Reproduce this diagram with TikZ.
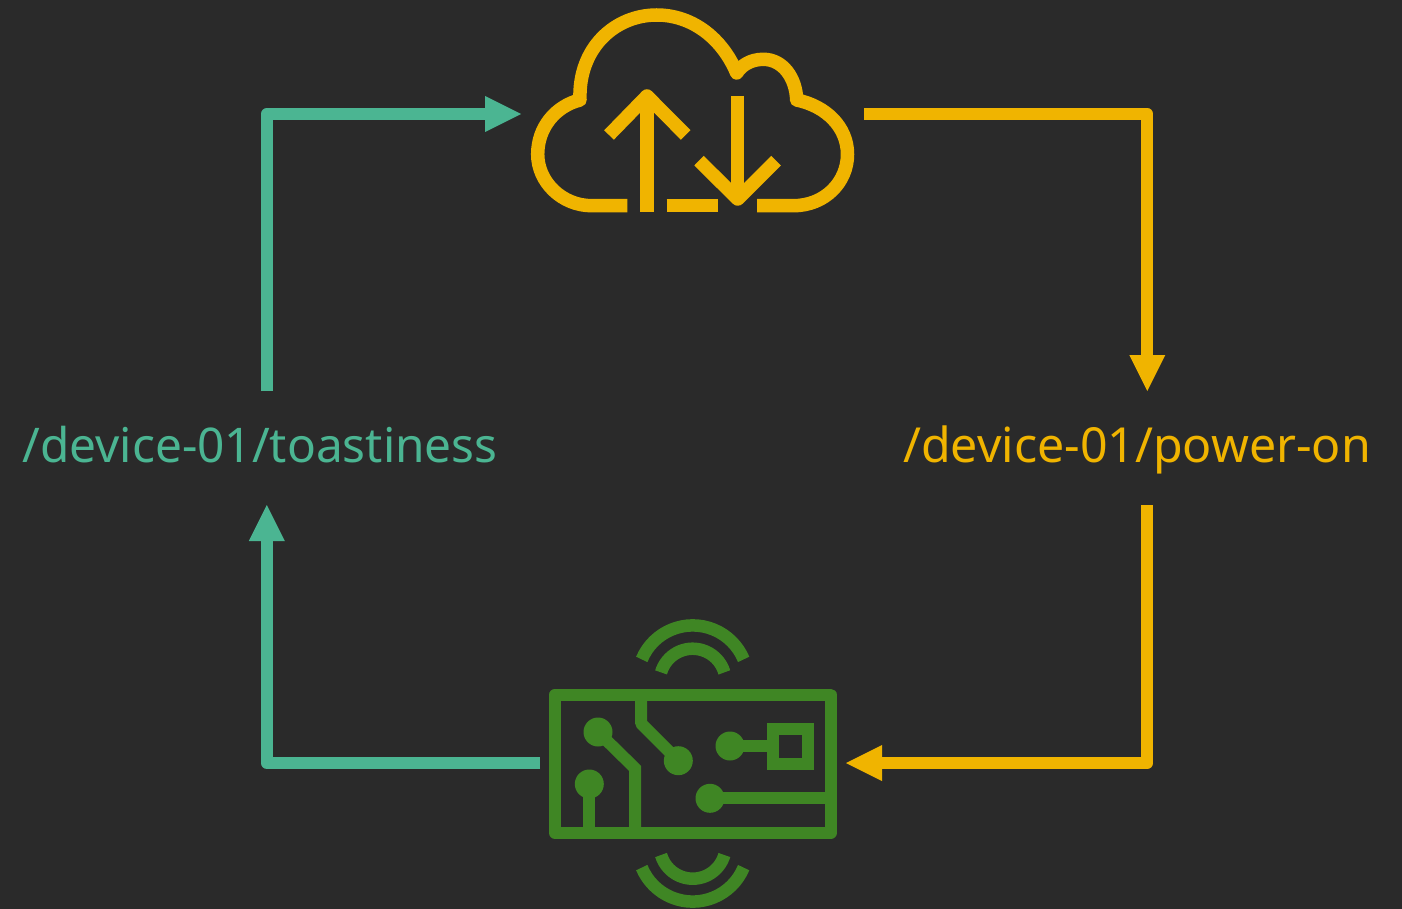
\documentclass[tikz,border=0pt]{standalone}
\usepackage{fontspec}
\setmainfont{Noto Sans}
\usetikzlibrary{arrows.meta}
\definecolor{bg}{HTML}{2A2A2A}
\definecolor{teal}{HTML}{4BB592}
\definecolor{amber}{HTML}{F0B400}
\definecolor{chip}{HTML}{3F8624}
\tikzset{
  flow/.style={line width=12pt,line join=round,-{Triangle[length=36pt,width=36pt,line width=0pt]}},
  icon/.style={line width=13.5pt,line join=round,line cap=butt},
  pad/.style={circle,fill=chip,inner sep=0pt,minimum size=29pt},
  port/.style={inner sep=0pt,outer sep=0pt,minimum height=1pt},
  topic/.style={inner sep=0pt,outer sep=0pt,anchor=base,text height=71.4pt,text depth=42.6pt,font=\fontsize{47.8}{50}\selectfont}
}
\begin{document}
\begin{tikzpicture}[x=1pt,y=-1pt]
\path[use as bounding box,fill=bg] (0,0) rectangle (1402,909);
% named ports / labels
\node[port,minimum width=343pt] (cloud) at (692.5,114) {};
\node[port,minimum width=306pt] (device) at (693,763) {};
\node[topic,text=teal] (toast) at (260,462.4) {/device-01/toastiness};
\node[topic,text=amber,font=\fontsize{48.3}{50}\selectfont] (power) at (1137,462.4) {/device-01/power-on};
% cloud icon
\begin{scope}[icon]
\draw[amber] (627.3,205.7) -- (591.7,205.7)
  .. controls (562,205.7) and (537.7,182) .. (537.7,154.3)
  .. controls (537.7,127) and (556,106) .. (580,100)
  .. controls (578,48) and (615,15) .. (656.7,15)
  .. controls (692,15) and (722,38) .. (736.7,73)
  .. controls (741,66) and (750,59.3) .. (763.3,59.3)
  .. controls (783,59.3) and (796,78) .. (796.7,100)
  .. controls (826,106) and (847.5,127) .. (847.5,154.3)
  .. controls (847.5,182) and (825,205.7) .. (793.3,205.7)
  -- (757,205.7);
\draw[amber] (666.7,205.7) -- (718,205.7);
\draw[amber] (647,212) -- (647,96);
\draw[amber] (609,135) -- (647,96) -- (685.7,135);
\draw[amber] (737.7,96) -- (737.7,199);
\draw[amber] (699,160.7) -- (737.7,199) -- (776,160.7);
\end{scope}
% device icon
\begin{scope}[icon,line width=12pt]
\draw[chip] (555,694.7) rectangle (830.7,833);
\draw[chip] (641,694.7) -- (641,723.3) -- (678.3,760.7);
\draw[chip,line join=miter] (598,732) -- (635,768.3) -- (635,833);
\draw[chip] (589.3,784) -- (589.3,833);
\draw[chip] (730,746) -- (773,746);
\draw[chip,line join=miter] (773,729.3) rectangle (807.7,763.7);
\draw[chip] (710,798.3) -- (830.7,798.3);
\node[pad] at (678.3,760.7) {};
\node[pad] at (598,732) {};
\node[pad] at (589.3,784) {};
\node[pad] at (730,746) {};
\node[pad] at (710,798.3) {};
\draw[chip,line width=12.5pt] (692.7,680.6) ++(202.6:55.2) arc[start angle=202.6,end angle=337.4,radius=55.2];
\draw[chip,line width=12.5pt] (692.7,681.7) ++(196.4:33) arc[start angle=196.4,end angle=343.6,radius=33];
\draw[chip,line width=12.5pt] (692.7,846.4) ++(22.6:55.2) arc[start angle=22.6,end angle=157.4,radius=55.2];
\draw[chip,line width=12.5pt] (692.7,845.7) ++(16.4:33) arc[start angle=16.4,end angle=163.6,radius=33];
\end{scope}
% connectors
\draw[flow,teal] ([xshift=6.8pt]toast.north) |- (cloud.west);
\draw[flow,amber] (cloud.east) -| ([xshift=10.3pt]power.north);
\draw[flow,amber] ([xshift=10.3pt]power.south) |- (device.east);
\draw[flow,teal] (device.west) -| ([xshift=6.8pt]toast.south);
\end{tikzpicture}
\end{document}
